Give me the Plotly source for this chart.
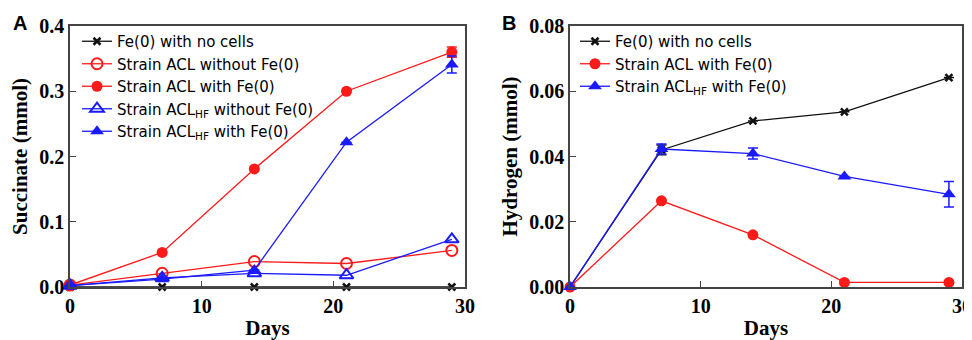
import plotly.graph_objects as go

days = [0, 7, 14, 21, 29]

# Panel A: succinate (mmol)
succ_fe_nocells = [0.0, 0.0, 0.0, 0.0, 0.0]
succ_acl_nofe = [0.003, 0.021, 0.039, 0.036, 0.056]
succ_acl_fe = [0.003, 0.053, 0.181, 0.300, 0.360]
succ_acl_fe_err = [0, 0, 0, 0, 0.008]
succ_aclhf_nofe = [0.002, 0.014, 0.021, 0.018, 0.073]
succ_aclhf_fe = [0.002, 0.012, 0.026, 0.222, 0.341]
succ_aclhf_fe_err = [0, 0, 0, 0, 0.013]

# Panel B: hydrogen (mmol)
h2_fe_nocells = [0.0, 0.0420, 0.0509, 0.0537, 0.0642]
h2_fe_nocells_err = [0, 0.0015, 0, 0, 0]
h2_acl_fe = [0.0, 0.0264, 0.0160, 0.0014, 0.0014]
h2_aclhf_fe = [0.0, 0.0423, 0.0409, 0.0339, 0.0284]
h2_aclhf_fe_err = [0, 0.0015, 0.0017, 0, 0.0039]

x_ticks = [0, 10, 20, 30]
yA_ticks = [0.0, 0.1, 0.2, 0.3, 0.4]
yB_ticks = [0.00, 0.02, 0.04, 0.06, 0.08]

RED = "#ff1a1a"
BLUE = "#1a1aff"
BLACK = "#111111"
LW = 1.3

fig = go.Figure()

def add(x, y, name, color, symbol, size, xa, ya, legend, err=None, open_=False):
    marker = dict(symbol=symbol, size=size, color=color,
                  line=dict(width=2 if open_ else 0, color=color))
    if symbol == "x-thin":
        marker = dict(symbol="x-thin", size=size, color=color, line=dict(width=2.5, color=color))
    tr = go.Scatter(x=x, y=y, name=name, mode="lines+markers",
                    line=dict(color=color, width=LW), marker=marker,
                    xaxis=xa, yaxis=ya, legend=legend, cliponaxis=False)
    if err is not None:
        tr.error_y = dict(type="data", array=err, visible=True, color=color,
                          thickness=1.5, width=5)
    fig.add_trace(tr)

add(days, succ_fe_nocells, "Fe(0) with no cells", BLACK, "x-thin", 7, "x", "y", "legend")
add(days, succ_acl_nofe, "Strain ACL without Fe(0)", RED, "circle-open", 11, "x", "y", "legend", open_=True)
add(days, succ_acl_fe, "Strain ACL with Fe(0)", RED, "circle", 11, "x", "y", "legend", err=succ_acl_fe_err)
add(days, succ_aclhf_nofe, "Strain ACL<sub>HF</sub> without Fe(0)", BLUE, "triangle-up-open", 12, "x", "y", "legend", open_=True)
add(days, succ_aclhf_fe, "Strain ACL<sub>HF</sub> with Fe(0)", BLUE, "triangle-up", 12, "x", "y", "legend", err=succ_aclhf_fe_err)

add(days, h2_fe_nocells, "Fe(0) with no cells", BLACK, "x-thin", 7, "x2", "y2", "legend2", err=h2_fe_nocells_err)
add(days, h2_acl_fe, "Strain ACL with Fe(0)", RED, "circle", 11, "x2", "y2", "legend2")
add(days, h2_aclhf_fe, "Strain ACL<sub>HF</sub> with Fe(0)", BLUE, "triangle-up", 12, "x2", "y2", "legend2", err=h2_aclhf_fe_err)

# page body has an 8px margin; figure sized to fit the 972x340 window
OFF = 8
W, H = 972 - OFF, 340 - OFF
def px(v):
    return (v - OFF) / W
def py(v):
    return 1 - (v - OFF) / H

tickfont = dict(family="Liberation Serif", size=20, color="black", weight="bold")
titlefont = dict(family="Liberation Serif", size=21, color="black", weight="bold")
axcommon = dict(showgrid=False, zeroline=False, showline=True, linecolor="#444",
                linewidth=1.5, mirror=True, ticks="inside", ticklen=6, tickwidth=1,
                tickcolor="#444", tickfont=tickfont, automargin=False)
legfont = dict(family="DejaVu Sans", size=15, color="black")

fig.update_layout(
    width=W, height=H, margin=dict(l=0, r=0, t=0, b=0),
    paper_bgcolor="white", plot_bgcolor="white", showlegend=True,
    xaxis=dict(domain=[px(70), px(465)], range=[0, 30], tickvals=x_ticks,
               title=dict(text="Days", font=titlefont, standoff=7),
               anchor="y", **axcommon),
    yaxis=dict(domain=[py(287), py(26)], range=[0, 0.4], tickvals=yA_ticks,
               tickformat=".1f", title=dict(text="Succinate (mmol)", font=titlefont, standoff=6),
               anchor="x", **axcommon),
    xaxis2=dict(domain=[px(570), px(962)], range=[0, 30], tickvals=x_ticks,
                title=dict(text="Days", font=titlefont, standoff=7),
                anchor="y2", **axcommon),
    yaxis2=dict(domain=[py(287), py(26)], range=[0, 0.08], tickvals=yB_ticks,
                tickformat=".2f", title=dict(text="Hydrogen (mmol)", font=titlefont, standoff=6),
                anchor="x2", **axcommon),
    legend=dict(x=px(77), y=py(25), xanchor="left", yanchor="top", font=legfont,
                bgcolor="rgba(0,0,0,0)", tracegroupgap=0, itemwidth=30),
    legend2=dict(x=px(575), y=py(25), xanchor="left", yanchor="top", font=legfont,
                 bgcolor="rgba(0,0,0,0)", tracegroupgap=0, itemwidth=30),
)

fig.add_annotation(text="<b>A</b>", x=px(20), y=py(23), xref="paper", yref="paper",
                   xanchor="center", yanchor="middle", showarrow=False,
                   font=dict(family="Liberation Sans", size=20, color="black"))
fig.add_annotation(text="<b>B</b>", x=px(509), y=py(23), xref="paper", yref="paper",
                   xanchor="center", yanchor="middle", showarrow=False,
                   font=dict(family="Liberation Sans", size=20, color="black"))

fig.write_html("out.html")
